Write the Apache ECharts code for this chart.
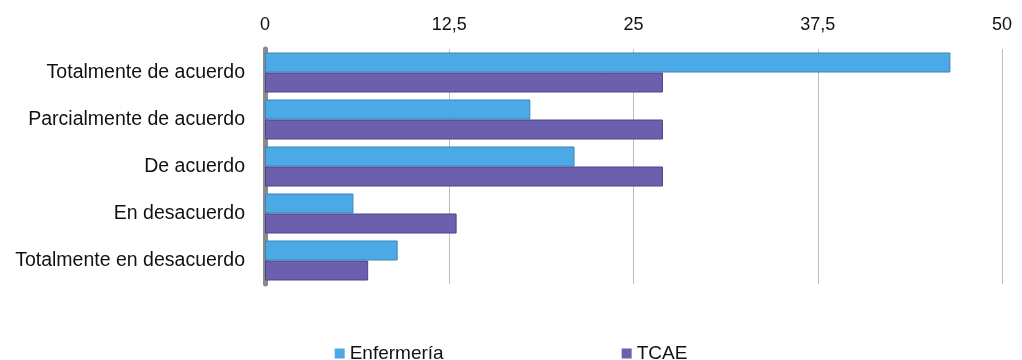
<!DOCTYPE html>
<html><head><meta charset="utf-8">
<script src="https://cdn.jsdelivr.net/npm/echarts@6/dist/echarts.min.js"></script>
<style>html,body{margin:0;padding:0;background:#fff}#c{width:1022px;height:360px}</style>
</head><body><div id="c"></div>
<script>
const categories = ['Totalmente de acuerdo', 'Parcialmente de acuerdo', 'De acuerdo', 'En desacuerdo', 'Totalmente en desacuerdo'];
const enfermeria = [46.5, 18, 21, 6, 9];
const tcae = [27, 27, 27, 13, 7];
const seriesNames = ['Enfermería', 'TCAE'];
const chart = echarts.init(document.getElementById('c'));
const font = 'Liberation Sans, Arial, sans-serif';
chart.setOption({
  animation: false,
  textStyle: {fontFamily: font},
  grid: {left: 265, right: 20, top: 49, bottom: 76},
  legend: {
    top: 339, left: 'center', itemWidth: 10, itemHeight: 10, itemGap: 178, icon: 'rect',
    itemStyle: {borderWidth: 0},
    textStyle: {fontSize: 19, color: '#111', fontFamily: font},
    data: seriesNames
  },
  xAxis: {
    type: 'value', position: 'top', min: 0, max: 50, interval: 12.5,
    axisLine: {show: false}, axisTick: {show: false},
    splitLine: {lineStyle: {color: '#bdbdbd', width: 1}},
    axisLabel: {fontSize: 18, color: '#111', margin: 15, formatter: v => String(v).replace('.', ',')}
  },
  yAxis: {
    type: 'category', inverse: true, data: categories,
    axisLine: {lineStyle: {color: '#8a8a8a', width: 5}},
    axisTick: {show: false},
    axisLabel: {fontSize: 19.5, color: '#111', margin: 20}
  },
  series: [
    {name: seriesNames[0], type: 'bar', data: enfermeria, barWidth: 20, barGap: '0%',
     itemStyle: {color: '#4BA9E6', borderColor: '#3a86b8', borderWidth: 1}},
    {name: seriesNames[1], type: 'bar', data: tcae, barWidth: 20,
     itemStyle: {color: '#6B5FAE', borderColor: '#4f458a', borderWidth: 1}}
  ]
});
</script></body></html>
